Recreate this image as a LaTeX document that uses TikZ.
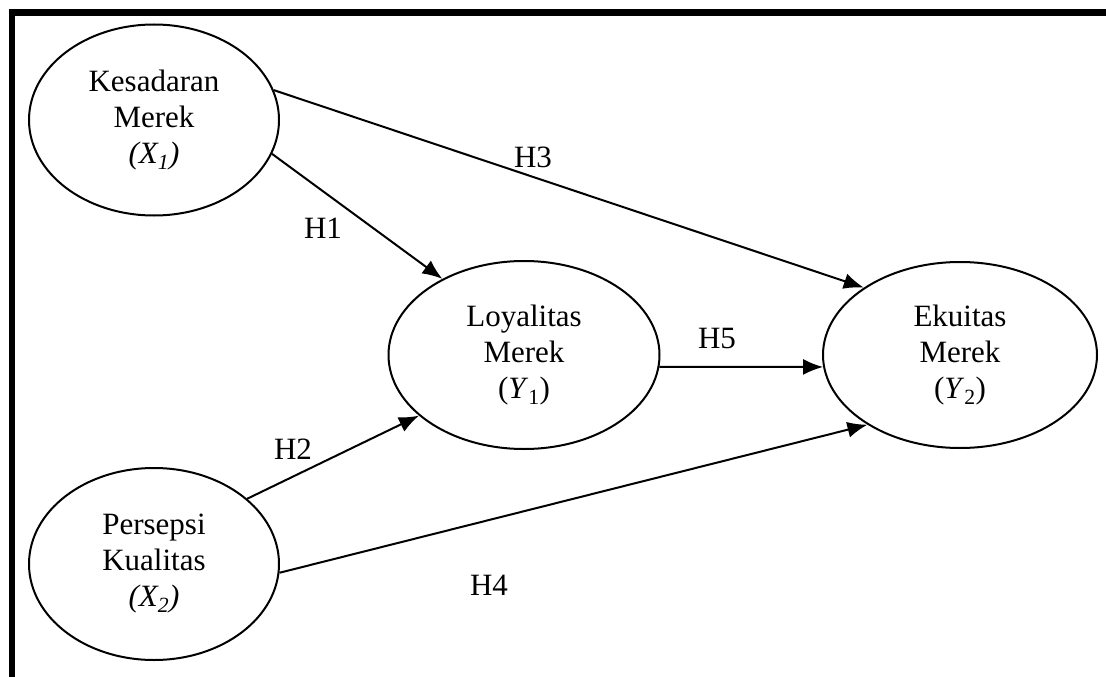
\documentclass[tikz,border=0pt]{standalone}
\usepackage{fontspec}
\setmainfont{Liberation Serif}
\usetikzlibrary{shapes.geometric,arrows.meta}
\tikzset{
  variabel/.style={ellipse,draw,line width=2pt,inner sep=0pt,align=center,
    font=\fontsize{31}{36}\selectfont},
  panah/.style={line width=2pt,-{Latex[length=20pt,width=16pt]}},
  hipotesis/.style={font=\fontsize{31}{36}\selectfont}
}
\begin{document}
\begin{tikzpicture}[x=1pt,y=-1pt]
        \useasboundingbox (0,0) rectangle (1106,677);
        %bingkai
        \draw[line width=6.5pt] (12,677) -- (12,12.5) -- (1106,12.5);
        %variabel
        \node[variabel,minimum width=250pt,minimum height=191pt] (kes) at (154,120) {Kesadaran\\Merek\\\textit{(X\textsubscript{1})}};
        \node[variabel,minimum width=250pt,minimum height=192pt] (per) at (154,564) {Persepsi\\Kualitas\\\textit{(X\textsubscript{2})}};
        \node[variabel,minimum width=271pt,minimum height=188pt] (loy) at (524,355) {Loyalitas\\Merek\\(\textit{Y}\textsubscript{1})};
        \node[variabel,minimum width=274pt,minimum height=186pt] (eku) at (960,355) {Ekuitas\\Merek\\(\textit{Y}\textsubscript{2})};
        %hipotesis
        \draw[panah] (kes.14) -- (eku.145);
        \draw[panah] (kes.-16) -- (loy.137);
        \draw[panah] (per.35) -- (loy.210);
        \draw[panah] (per.-4) -- (eku.217);
        \draw[panah] (loy.-5) -- (eku.185);
        %label
        \node[hipotesis] (h1) at (323,228) {H1};
        \node[hipotesis] (h2) at (293,449) {H2};
        \node[hipotesis] (h3) at (533,157) {H3};
        \node[hipotesis] (h4) at (489,585) {H4};
        \node[hipotesis] (h5) at (717,338) {H5};
\end{tikzpicture}
\end{document}
